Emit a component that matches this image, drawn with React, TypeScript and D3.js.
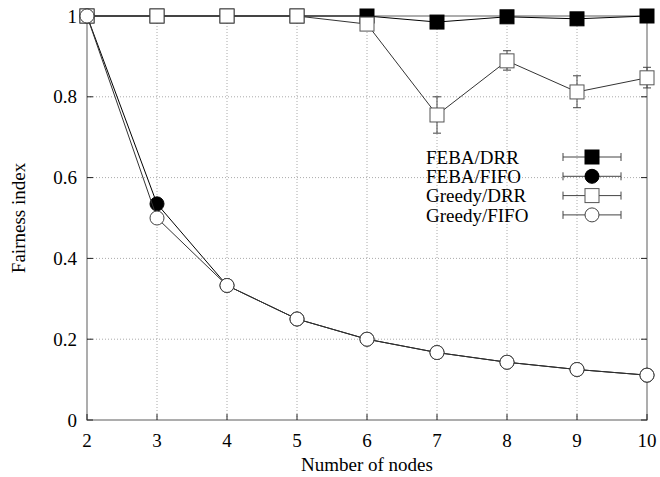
import React, { useEffect, useRef } from "react";
import * as d3 from "d3";

const nodes = [2, 3, 4, 5, 6, 7, 8, 9, 10];
const febaDrr = [1, 1, 1, 1, 1, 0.985, 0.998, 0.993, 1];
const febaFifo = [1, 0.535, 0.333, 0.25, 0.2, 0.167, 0.143, 0.125, 0.111];
const greedyDrr = [1, 1, 1, 1, 0.98, 0.755, 0.889, 0.812, 0.847];
const greedyDrrLow = [1, 1, 1, 1, 0.965, 0.71, 0.866, 0.773, 0.822];
const greedyDrrHigh = [1, 1, 1, 1, 0.995, 0.8, 0.914, 0.852, 0.873];
const greedyFifo = [1, 0.5, 0.333, 0.25, 0.2, 0.167, 0.143, 0.125, 0.111];
const yTicks = [0, 0.2, 0.4, 0.6, 0.8, 1];
const xTicks = [2, 3, 4, 5, 6, 7, 8, 9, 10];

type Series = {
  name: string;
  values: number[];
  low?: number[];
  high?: number[];
  shape: "square" | "circle";
  filled: boolean;
};

// drawn in legend order, so the open markers end up on top
const series: Series[] = [
  { name: "FEBA/DRR", values: febaDrr, shape: "square", filled: true },
  { name: "FEBA/FIFO", values: febaFifo, shape: "circle", filled: true },
  { name: "Greedy/DRR", values: greedyDrr, low: greedyDrrLow, high: greedyDrrHigh, shape: "square", filled: false },
  { name: "Greedy/FIFO", values: greedyFifo, shape: "circle", filled: false },
];

const W = 660;
const H = 477;
const margin = { left: 87, right: 13, top: 16, bottom: 57 };
const font = "'Liberation Serif', 'Times New Roman', serif";
const fs = 19;

function drawMarker(g: any, s: Series, cx: number, cy: number) {
  const fill = s.filled ? "#000" : "#fff";
  if (s.shape === "square") {
    g.append("rect")
      .attr("x", cx - 7)
      .attr("y", cy - 7)
      .attr("width", 14)
      .attr("height", 14)
      .attr("fill", fill)
      .attr("stroke", s.filled ? "#000" : "#555")
      .attr("stroke-width", 1);
  } else {
    g.append("circle")
      .attr("cx", cx)
      .attr("cy", cy)
      .attr("r", 7)
      .attr("fill", fill)
      .attr("stroke", s.filled ? "#000" : "#444")
      .attr("stroke-width", 1);
  }
}

export default function App() {
  const svgRef = useRef<SVGSVGElement>(null);

  useEffect(() => {
    const svg = d3.select(svgRef.current);
    svg.selectAll("*").remove();

    const x = d3.scaleLinear().domain([2, 10]).range([margin.left, W - margin.right]);
    const y = d3.scaleLinear().domain([0, 1]).range([H - margin.bottom, margin.top]);

    // grid
    const grid = svg.append("g");
    xTicks.slice(1, -1).forEach((t) => {
      grid.append("line")
        .attr("x1", x(t)).attr("x2", x(t))
        .attr("y1", y(0)).attr("y2", y(1))
        .attr("stroke", "#aaa").attr("stroke-dasharray", "1,2");
    });
    yTicks.slice(1, -1).forEach((t) => {
      grid.append("line")
        .attr("x1", x(2)).attr("x2", x(10))
        .attr("y1", y(t)).attr("y2", y(t))
        .attr("stroke", "#aaa").attr("stroke-dasharray", "1,2");
    });

    // border
    svg.append("rect")
      .attr("x", x(2)).attr("y", y(1))
      .attr("width", x(10) - x(2)).attr("height", y(0) - y(1))
      .attr("fill", "none").attr("stroke", "#777").attr("stroke-width", 1.2);

    // ticks
    const ticks = svg.append("g").attr("stroke", "#222");
    yTicks.forEach((t) => {
      ticks.append("line").attr("x1", x(2)).attr("x2", x(2) + 6).attr("y1", y(t)).attr("y2", y(t));
      ticks.append("line").attr("x1", x(10)).attr("x2", x(10) - 6).attr("y1", y(t)).attr("y2", y(t));
    });
    xTicks.forEach((t) => {
      ticks.append("line").attr("x1", x(t)).attr("x2", x(t)).attr("y1", y(0)).attr("y2", y(0) - 6);
      ticks.append("line").attr("x1", x(t)).attr("x2", x(t)).attr("y1", y(1)).attr("y2", y(1) + 6);
    });

    // tick labels
    yTicks.forEach((t) => {
      svg.append("text")
        .attr("x", x(2) - 10).attr("y", y(t)).attr("dy", "0.35em")
        .attr("text-anchor", "end")
        .style("font", `${fs}px ${font}`)
        .text(d3.format("~g")(t));
    });
    xTicks.forEach((t) => {
      svg.append("text")
        .attr("x", x(t)).attr("y", y(0) + 27)
        .attr("text-anchor", "middle")
        .style("font", `${fs}px ${font}`)
        .text(String(t));
    });

    svg.append("text")
      .attr("x", (x(2) + x(10)) / 2).attr("y", H - 6)
      .attr("text-anchor", "middle")
      .style("font", `${fs}px ${font}`)
      .text("Number of nodes");
    svg.append("text")
      .attr("transform", `translate(25, ${(y(0) + y(1)) / 2}) rotate(-90)`)
      .attr("text-anchor", "middle")
      .style("font", `${fs}px ${font}`)
      .text("Fairness index");

    // series
    const line = d3.line<number>().x((_, i) => x(nodes[i])).y((d) => y(d));
    series.forEach((s) => {
      const g = svg.append("g");
      g.append("path")
        .attr("d", line(s.values))
        .attr("fill", "none")
        .attr("stroke", s.filled ? "#000" : "#333")
        .attr("stroke-width", 1);
      if (s.low && s.high) {
        s.values.forEach((_, i) => {
          const cx = x(nodes[i]);
          const lo = y(s.low![i]);
          const hi = y(s.high![i]);
          if (Math.abs(lo - hi) < 1) return;
          g.append("line").attr("x1", cx).attr("x2", cx).attr("y1", lo).attr("y2", hi).attr("stroke", "#444");
          g.append("line").attr("x1", cx - 4).attr("x2", cx + 4).attr("y1", lo).attr("y2", lo).attr("stroke", "#444");
          g.append("line").attr("x1", cx - 4).attr("x2", cx + 4).attr("y1", hi).attr("y2", hi).attr("stroke", "#444");
        });
      }
      s.values.forEach((v, i) => drawMarker(g, s, x(nodes[i]), y(v)));
    });

    // legend
    const lg = svg.append("g");
    series.forEach((s, i) => {
      const ly = 157 + i * 19.3;
      lg.append("text")
        .attr("x", 426).attr("y", ly).attr("dy", "0.35em")
        .style("font", `${fs}px ${font}`)
        .text(s.name);
      lg.append("line").attr("x1", 563).attr("x2", 621).attr("y1", ly).attr("y2", ly).attr("stroke", "#444");
      lg.append("line").attr("x1", 563).attr("x2", 563).attr("y1", ly - 4).attr("y2", ly + 4).attr("stroke", "#444");
      lg.append("line").attr("x1", 621).attr("x2", 621).attr("y1", ly - 4).attr("y2", ly + 4).attr("stroke", "#444");
      drawMarker(lg, s, 592, ly);
    });
  }, []);

  return (
    <svg
      ref={svgRef}
      width={W}
      height={H}
      style={{ position: "absolute", left: 0, top: 0, background: "#fff" }}
    />
  );
}
